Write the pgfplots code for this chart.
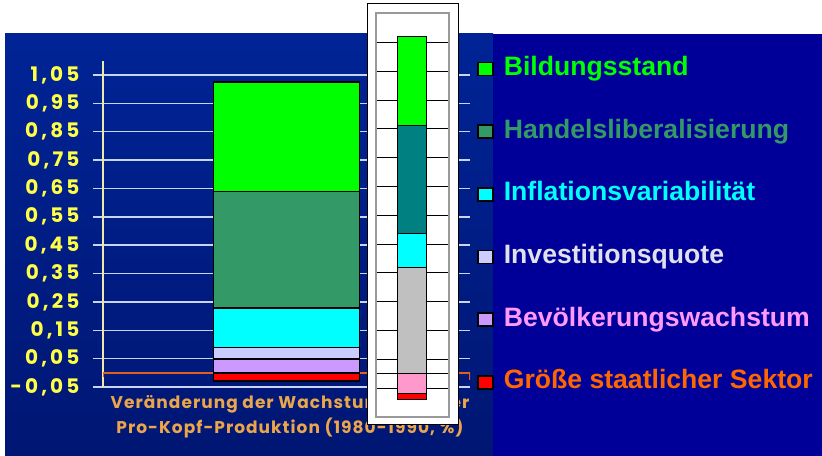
\documentclass[border=0pt]{standalone}
\usepackage{pgfplots}
\pgfplotsset{compat=1.18}
\usepackage{fontspec}
\setmainfont{Liberation Sans}
\newfontfamily\pop{Poppins}
\newfontfamily\poptick{Poppins}[LetterSpace=16]
\newfontfamily\poplab{Poppins}[LetterSpace=6]
\definecolor{bgright}{RGB}{0,0,153}
\definecolor{bgtop}{RGB}{0,36,150}
\definecolor{bgmid}{RGB}{0,50,200}
\definecolor{bgbot}{RGB}{0,22,115}
\definecolor{cGreen}{RGB}{0,255,0}
\definecolor{cHandel}{RGB}{51,153,102}
\definecolor{cCyan}{RGB}{0,255,255}
\definecolor{cInv}{RGB}{204,204,255}
\definecolor{cBev}{RGB}{204,153,255}
\definecolor{cRed}{RGB}{255,0,0}
\definecolor{tInv}{RGB}{225,225,235}
\definecolor{tBev}{RGB}{255,153,255}
\definecolor{tGr}{RGB}{255,102,0}
\definecolor{tickc}{RGB}{255,255,70}
\definecolor{xlab}{RGB}{235,165,75}
\definecolor{gridc}{RGB}{200,212,240}
\definecolor{yaxc}{RGB}{240,232,170}
\definecolor{zeroc}{RGB}{224,96,32}
\definecolor{iTeal}{RGB}{0,128,128}
\definecolor{iGrey}{RGB}{192,192,192}
\definecolor{iPink}{RGB}{255,153,204}
\pgfplotsset{
  mainax/.style={at={(103bp,69bp)}, anchor=south west, scale only axis,
    width=367bp, height=326.2bp, xmin=0, xmax=1, ymin=-0.05, ymax=1.10,
    ybar stacked, bar width=146bp},
  insetax/.style={at={(376bp,39bp)}, anchor=south west, scale only axis,
    width=73bp, height=404bp, xmin=0, xmax=1, ymin=-0.151, ymax=1.252,
    ybar stacked, bar width=28.6bp},
  mbar/.style={draw=black, line width=1.5bp},
  ibar/.style={draw=black, line width=0.8bp},
}
\begin{document}
\begin{tikzpicture}
\path[use as bounding box] (0,0) rectangle (822bp,456bp);
\fill[white] (0,0) rectangle (822bp,456bp);
\shade[top color=bgtop, middle color=bgmid, bottom color=bgbot] (5bp,0bp) rectangle (493bp,422bp);
\fill[bgright] (493bp,0bp) rectangle (822bp,422bp);

% main chart: positive contributions
\begin{axis}[mainax,
  axis x line=none, axis y line=left,
  y axis line style={-, draw=yaxc, line width=2bp},
  ytick={-0.05,0.05,0.15,0.25,0.35,0.45,0.55,0.65,0.75,0.85,0.95,1.05},
  yticklabels={{-0,05},{0,05},{0,15},{0,25},{0,35},{0,45},{0,55},{0,65},{0,75},{0,85},{0,95},{1,05}},
  ymajorgrids, major grid style={draw=gridc, line width=1.5bp},
  tick align=outside, major tick length=10bp,
  y tick style={draw=gridc, line width=1.5bp},
  yticklabel style={font=\poptick\bfseries\fontsize{20bp}{20bp}\selectfont, text=tickc, anchor=east, xshift=-10bp},
]
\draw[zeroc, line width=1.5bp] (axis cs:0,-0.015) -- (axis cs:0,0) -- (axis cs:1,0) -- (axis cs:1,-0.025);
\addplot[mbar, fill=cBev] coordinates {(0.5,0.049)};
\addplot[mbar, fill=cInv] coordinates {(0.5,0.041)};
\addplot[mbar, fill=cCyan] coordinates {(0.5,0.139)};
\addplot[mbar, fill=cHandel] coordinates {(0.5,0.410)};
\addplot[mbar, fill=cGreen] coordinates {(0.5,0.387)};
\end{axis}
% main chart: negative contribution
\begin{axis}[mainax, hide axis]
\addplot[mbar, fill=cRed] coordinates {(0.5,-0.028)};
\end{axis}

\node[anchor=base, text=xlab, font=\poplab\bfseries\fontsize{17bp}{17bp}\selectfont] at (290bp,47bp) {Veränderung der Wachstumsrate der};
\node[anchor=base, text=xlab, font=\poplab\bfseries\fontsize{17bp}{17bp}\selectfont] at (290bp,23bp) {Pro-Kopf-Produktion (1980-1990, \%)};

% inset
\filldraw[fill=white, draw=black, line width=1bp] (367bp,31bp) rectangle (458bp,452bp);
\begin{axis}[insetax,
  axis line style={draw=gray!80, line width=1.2bp},
  xtick=\empty,
  ytick={-0.05,0,0.05,0.15,0.25,0.35,0.45,0.55,0.65,0.75,0.85,0.95,1.05,1.15},
  yticklabels={},
  major tick length=0pt,
  ymajorgrids, major grid style={draw=black, line width=0.7bp},
]
\addplot[ibar, fill=iGrey] coordinates {(0.493,0.368)};
\addplot[ibar, fill=cCyan] coordinates {(0.493,0.120)};
\addplot[ibar, fill=iTeal] coordinates {(0.493,0.372)};
\addplot[ibar, fill=cGreen] coordinates {(0.493,0.309)};
\end{axis}
\begin{axis}[insetax, hide axis]
\addplot[ibar, fill=iPink] coordinates {(0.493,-0.069)};
\addplot[ibar, fill=cRed] coordinates {(0.493,-0.021)};
\end{axis}

% legend
\begin{axis}[mainax, hide axis,
  legend image code/.code={\draw[#1, draw=black, line width=1.6bp] (0bp,-7bp) rectangle (15bp,6bp);},
  legend style={at={(1.0191,1.017)}, anchor=north west, draw=none, fill=none,
    inner sep=0pt, row sep=36.7bp, column sep=10bp,
    font=\bfseries\fontsize{26.6bp}{30bp}\selectfont,
    nodes={inner sep=0pt, text height=20bp, text depth=6bp}},
  legend cell align=left,
]
\addlegendimage{fill=cGreen}
\addlegendentry{\textcolor{cGreen}{Bildungsstand}}
\addlegendimage{fill=cHandel}
\addlegendentry{\textcolor{cHandel}{Handelsliberalisierung}}
\addlegendimage{fill=cCyan}
\addlegendentry{\textcolor{cCyan}{Inflationsvariabilität}}
\addlegendimage{fill=cInv}
\addlegendentry{\textcolor{tInv}{Investitionsquote}}
\addlegendimage{fill=cBev}
\addlegendentry{\textcolor{tBev}{Bevölkerungswachstum}}
\addlegendimage{fill=cRed}
\addlegendentry{\textcolor{tGr}{Größe staatlicher Sektor}}
\end{axis}
\end{tikzpicture}
\end{document}
